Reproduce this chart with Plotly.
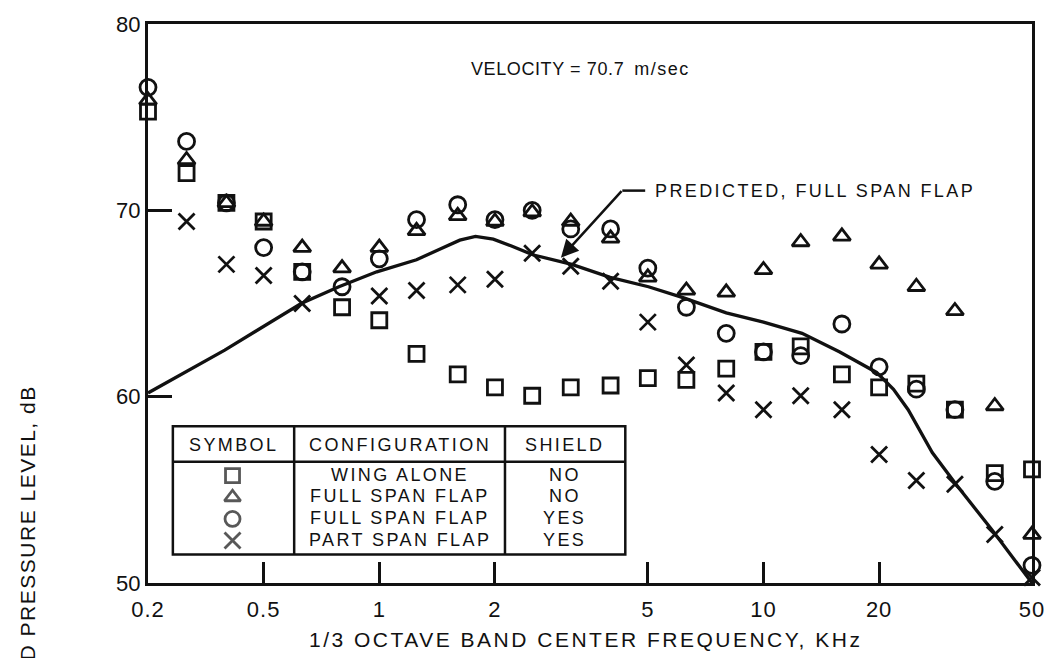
import math
import plotly.graph_objects as go

# 1/3-octave band centre frequencies, kHz
freq_khz = [0.25, 0.315, 0.4, 0.5, 0.63, 0.8, 1.0, 1.25, 1.6, 2.0, 2.5, 3.15,
            4.0, 5.0, 6.3, 8.0, 10.0, 12.5, 16.0, 20.0, 25.0, 31.5, 40.0, 50.0]

# Measured sound pressure level, dB
wing_alone = [75.3, 72.0, 70.4, 69.4, 66.7, 64.8, 64.1, 62.3, 61.2, 60.5, 60.05, 60.5,
              60.6, 61.0, 60.9, 61.5, 62.4, 62.7, 61.2, 60.5, 60.7, 59.3, 55.9, 56.1]
full_span_no_shield = [75.9, 72.7, 70.4, 69.4, 68.0, 66.9, 68.0, 68.9, 69.7, 69.4, 69.9, 69.4,
                       68.5, 66.4, 65.7, 65.6, 66.8, 68.3, 68.6, 67.1, 65.9, 64.6, 59.5, 52.6]
full_span_shield = [76.6, 73.7, 70.4, 68.0, 66.7, 65.9, 67.4, 69.5, 70.3, 69.5, 70.0, 69.0,
                    69.0, 66.9, 64.8, 63.4, 62.4, 62.2, 63.9, 61.6, 60.4, 59.3, 55.45, 50.95]
part_span_shield = [None, 69.4, 67.1, 66.5, 65.0, None, 65.4, 65.7, 66.0, 66.3, 67.7, 67.0,
                    66.2, 64.0, 61.7, 60.2, 59.3, 60.05, 59.3, 56.9, 55.5, 55.3, 52.6, 50.3]

# Predicted spectrum, full span flap
pred_freq = [0.25, 0.396, 0.626, 0.785, 0.985, 1.25, 1.45, 1.62, 1.78, 1.98, 2.2, 2.52,
             3.17, 3.99, 5.02, 6.2, 8.0, 10.0, 12.6, 15.8, 19.7, 21.8, 23.8, 27.5, 31.7,
             39.5, 50.0]
pred_spl = [60.2, 62.5, 65.0, 65.9, 66.7, 67.35, 67.95, 68.4, 68.6, 68.45, 68.1, 67.6,
            67.1, 66.4, 65.9, 65.3, 64.5, 64.0, 63.4, 62.4, 61.3, 60.4, 59.3, 57.0, 55.3,
            52.8, 50.0]

# point on the predicted curve that the label arrow indicates
arrow_freq = 2.97
arrow_spl = 67.46

x_tick_vals = [0.25, 0.5, 1, 2, 5, 10, 20, 50]
x_tick_text = ["0.2", "0.5", "1", "2", "5", "10", "20", "50"]
y_tick_vals = [50, 60, 70, 80]

FONT = "Liberation Sans, Arial, sans-serif"
INK = "#111111"

# plot-area geometry in page pixels
W, H = 1057, 658
L, R, T, B = 148, 20, 16, 75
PW, PH = W - L - R, H - T - B


def px(xp):
    return (xp - L) / PW


def py(yp):
    return (H - B - yp) / PH


def spaced(text, ls):
    return f'<span style="letter-spacing:{ls}px">{text}</span>'


fig = go.Figure()

fig.add_trace(go.Scatter(
    x=pred_freq, y=pred_spl, mode="lines",
    line=dict(color=INK, width=3.3), cliponaxis=False, showlegend=False,
    hoverinfo="skip"))

series = [
    (wing_alone, "square-open", 15),
    (full_span_no_shield, "triangle-up-open", 15),
    (full_span_shield, "circle-open", 16),
    (part_span_shield, "x-thin-open", 16),
]
for vals, sym, size in series:
    fig.add_trace(go.Scatter(
        x=freq_khz, y=vals, mode="markers",
        marker=dict(symbol=sym, size=size, color=INK, line=dict(color=INK, width=2.8)),
        cliponaxis=False, showlegend=False))

# legend table symbols, placed on an overlay axis spanning the plot area
legend_syms = ["square-open", "triangle-up-open", "circle-open", "x-thin-open"]
legend_rows_y = [474, 496, 518, 540]
fig.add_trace(go.Scatter(
    x=[px(233)] * 4, y=[py(v) for v in legend_rows_y], mode="markers",
    marker=dict(symbol=legend_syms, size=[14, 14, 15, 16], color=INK,
                line=dict(color=INK, width=2.8)),
    xaxis="x2", yaxis="y2", cliponaxis=False, showlegend=False, hoverinfo="skip"))

axis_font = dict(family=FONT, size=22, color=INK)
fig.update_layout(
    width=W, height=H,
    margin=dict(l=L, r=R, t=T, b=B, pad=0),
    paper_bgcolor="white", plot_bgcolor="white",
    xaxis=dict(
        type="log", range=[math.log10(0.25), math.log10(50)],
        tickmode="array", tickvals=x_tick_vals,
        ticktext=[spaced(t, 1) for t in x_tick_text],
        ticks="inside", ticklen=21, tickwidth=2.5, tickcolor=INK,
        showline=True, linewidth=2.5, linecolor=INK, mirror=True,
        showgrid=False, zeroline=False, tickfont=axis_font, ticklabelstandoff=5),
    yaxis=dict(
        range=[50, 80], tickmode="array", tickvals=y_tick_vals,
        ticks="inside", ticklen=24, tickwidth=2.5, tickcolor=INK,
        showline=True, linewidth=3, linecolor=INK, mirror=True,
        showgrid=False, zeroline=False, tickfont=axis_font, ticklabelstandoff=0),
    xaxis2=dict(overlaying="x", range=[0, 1], visible=False),
    yaxis2=dict(overlaying="y", range=[0, 1], visible=False),
)

shapes = []
table_line = dict(color=INK, width=2.5)
shapes.append(dict(type="rect", xref="paper", yref="paper",
                   x0=px(173), x1=px(628), y0=py(554), y1=py(424), line=table_line))
shapes.append(dict(type="line", xref="paper", yref="paper",
                   x0=px(173), x1=px(628), y0=py(460), y1=py(460), line=table_line))
for xv in (295, 507):
    shapes.append(dict(type="line", xref="paper", yref="paper",
                       x0=px(xv), x1=px(xv), y0=py(424), y1=py(554), line=table_line))
# horizontal leader from the prediction label
shapes.append(dict(type="line", xref="paper", yref="paper",
                   x0=px(625), x1=px(648), y0=py(185), y1=py(185),
                   line=dict(color=INK, width=2.5)))
fig.update_layout(shapes=shapes)

ann = []


def text(t, x, y, size=18, ls=2, xanchor="center", angle=0):
    ann.append(dict(text=spaced(t, ls) if ls else t, x=px(x), y=py(y),
                    xref="paper", yref="paper", showarrow=False,
                    xanchor=xanchor, yanchor="middle", textangle=angle,
                    font=dict(family=FONT, size=size, color=INK)))


# table text
text("SYMBOL", 234, 443, ls=2.4)
text("CONFIGURATION", 401, 443, ls=2.5)
text("SHIELD", 567, 443, ls=2.4)
configs = ["WING ALONE", "FULL SPAN FLAP", "FULL SPAN FLAP", "PART SPAN FLAP"]
shields = ["NO", "NO", "YES", "YES"]
for yv, c, s in zip(legend_rows_y, configs, shields):
    text(c, 401, yv - 1, ls=2.4)
    text(s, 567, yv - 1, ls=2.4)

# chart labels
ann.append(dict(
    text=spaced("VELOCITY = 70.7", 0.6) + "\u00a0\u00a0" + spaced("m/sec", 1.5),
    x=px(471), y=py(62), xref="paper", yref="paper", showarrow=False,
    xanchor="left", yanchor="middle", font=dict(family=FONT, size=18, color=INK)))
text("PREDICTED, FULL SPAN FLAP", 656, 185, ls=2.4, xanchor="left")
# diagonal leader with arrowhead (log axis: annotation x is given in log10 units)
ann.append(dict(text="", x=math.log10(arrow_freq), y=arrow_spl, xref="x", yref="y",
                showarrow=True, ax=62, ay=-68, axref="pixel", ayref="pixel",
                arrowhead=2, arrowsize=1.4, arrowwidth=2.5, arrowcolor=INK,
                standoff=0, startstandoff=0))

text("1/3 OCTAVE BAND CENTER FREQUENCY, KHz", 588, 640, size=21, ls=2.5)
text("SOUND PRESSURE LEVEL, dB", 27, 556, size=21, ls=1.5, angle=-90)

fig.update_layout(annotations=ann)

fig.write_html("out.html")
